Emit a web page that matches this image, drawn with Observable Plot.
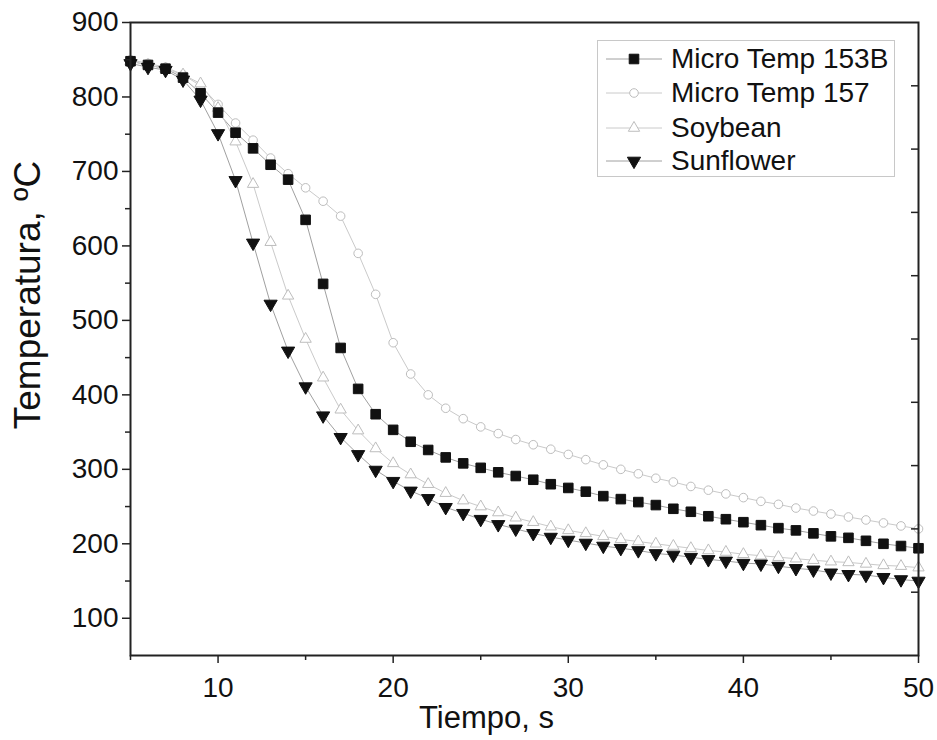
<!DOCTYPE html>
<html>
<head>
<meta charset="utf-8">
<script src="https://cdn.jsdelivr.net/npm/d3@7"></script>
<script src="https://cdn.jsdelivr.net/npm/@observablehq/plot@0.6"></script>
<style>
  html, body { margin: 0; padding: 0; background: #fff; }
  #wrap { position: relative; width: 937px; height: 740px; font-family: "Liberation Sans", Arial, sans-serif; }
  #legend { position: absolute; left: 597px; top: 40px; width: 298px; height: 137px; border: 1px solid #c8c8c8; box-sizing: border-box; background: #fff; }
  .row { position: absolute; left: 0; height: 34px; display: flex; align-items: center; white-space: nowrap; }
  .row span { font-size: 28px; color: #111; margin-left: 5px; }
</style>
</head>
<body>
<div id="wrap"><div id="chart"></div><div id="legend"></div></div>
<script>
const seriesNames = ["Micro Temp 153B", "Micro Temp 157", "Soybean", "Sunflower"];
const time = d3.range(5, 51);
const microTemp153B = [848, 843, 838, 826, 805, 779, 752, 731, 709, 689, 635, 549, 463, 408, 374, 353, 337, 326, 316, 308,
  302, 296, 291, 286, 280, 275, 270, 264, 260, 256, 252, 247, 243, 237, 233, 229, 225, 221, 218, 214,
  210, 208, 204, 200, 197, 194];
const microTemp157 = [850, 845, 840, 830, 815, 790, 765, 742, 718, 697, 678, 660, 640, 590, 535, 470, 428, 400, 382, 368,
  357, 348, 340, 333, 327, 320, 313, 306, 300, 294, 288, 283, 277, 272, 267, 262, 257, 253, 248, 244,
  240, 236, 232, 228, 224, 220];
const soybean = [848, 843, 838, 830, 818, 785, 740, 683, 605, 533, 475, 423, 380, 352, 328, 308, 293, 280, 268, 258,
  250, 242, 235, 229, 223, 218, 214, 210, 206, 203, 200, 197, 194, 191, 189, 186, 184, 182, 180, 178,
  176, 175, 173, 171, 170, 168];
const sunflower = [845, 840, 836, 823, 796, 751, 688, 604, 522, 459, 411, 372, 343, 320, 299, 284, 271, 261, 249, 241,
  233, 226, 220, 214, 209, 205, 201, 197, 194, 191, 187, 185, 182, 179, 177, 174, 173, 170, 167, 165,
  161, 159, 158, 155, 152, 150];
const xTicks = [10, 20, 30, 40, 50];
const xMinorTicks = [5, 15, 25, 35, 45];
const yTicks = [100, 200, 300, 400, 500, 600, 700, 800, 900];
const yMinorTicks = [150, 250, 350, 450, 550, 650, 750, 850];
const rightTicks = [135, 220, 305, 390, 475, 560, 645, 730, 815];

const valuesBySeries = [microTemp153B, microTemp157, soybean, sunflower];
const data = [];
seriesNames.forEach((name, si) => time.forEach((t, i) => data.push({series: name, t, v: valuesBySeries[si][i]})));

const triangleDown = {
  draw(ctx, size) {
    const a = Math.sqrt(4 * size / Math.sqrt(3));
    const h = a * Math.sqrt(3) / 2;
    ctx.moveTo(-a / 2, -h / 3);
    ctx.lineTo(a / 2, -h / 3);
    ctx.lineTo(0, 2 * h / 3);
    ctx.closePath();
  }
};

const styles = {
  "Micro Temp 153B": {symbol: d3.symbolSquare, fill: "#111", stroke: "#111", r: 5.4, line: "#a0a0a0"},
  "Micro Temp 157": {symbol: d3.symbolCircle, fill: "#fff", stroke: "#bdbdbd", r: 4.3, line: "#cacaca"},
  "Soybean": {symbol: d3.symbolTriangle, fill: "#fff", stroke: "#bdbdbd", r: 4.2, line: "#cacaca"},
  "Sunflower": {symbol: triangleDown, fill: "#111", stroke: "#111", r: 4.9, line: "#a0a0a0"}
};

const font = "Liberation Sans, Arial, sans-serif";
const marks = [];
for (const name of seriesNames) {
  const s = styles[name];
  marks.push(Plot.line(data.filter(d => d.series === name), {x: "t", y: "v", stroke: s.line, strokeWidth: 1}));
}
for (const name of ["Micro Temp 157", "Soybean", "Micro Temp 153B", "Sunflower"]) {
  const s = styles[name];
  marks.push(Plot.dot(data.filter(d => d.series === name), {x: "t", y: "v", symbol: () => s.symbol, r: s.r, fill: s.fill, stroke: s.stroke, strokeWidth: 1}));
}

const chart = Plot.plot({
  width: 937,
  height: 740,
  marginLeft: 130,
  marginRight: 19,
  marginTop: 22,
  marginBottom: 85,
  style: {fontFamily: font, background: "#fff", color: "#111"},
  x: {domain: [5, 50]},
  y: {domain: [50, 900]},
  symbol: {type: "identity"},
  marks: [
    ...marks,
    Plot.axisX({ticks: xTicks, tickSize: 8, tickPadding: 14, fontSize: 28, label: null, stroke: "#222", strokeWidth: 1.5}),
    Plot.axisX({ticks: xMinorTicks, tickSize: 5, tickFormat: () => "", label: null, stroke: "#222", strokeWidth: 1.5}),
    Plot.axisY({ticks: yTicks, tickSize: 8, tickPadding: 4, fontSize: 28, label: null, stroke: "#222", strokeWidth: 1.5}),
    Plot.axisY({ticks: yMinorTicks, tickSize: 5, tickFormat: () => "", label: null, stroke: "#222", strokeWidth: 1.5}),
    Plot.axisY({anchor: "right", ticks: rightTicks, tickSize: 8, dx: -8, tickFormat: () => "", label: null, stroke: "#222", strokeWidth: 1.5}),
    Plot.frame({stroke: "#222", strokeWidth: 2}),
    Plot.text(["Tiempo, s"], {frameAnchor: "bottom", dx: -38, dy: 72, fontSize: 31, fill: "#111", textAnchor: "middle"}),
    Plot.text(["Temperatura, ºC"], {frameAnchor: "left", dx: -102, dy: -44, rotate: -90, fontSize: 37, fill: "#111", textAnchor: "middle"})
  ]
});
document.getElementById("chart").appendChild(chart);

// legend
const legend = document.getElementById("legend");
const rowCenters = [18, 52, 87, 120];
seriesNames.forEach((name, i) => {
  const s = styles[name];
  const row = document.createElement("div");
  row.className = "row";
  row.style.top = (rowCenters[i] - 17) + "px";
  const svg = d3.create("svg").attr("width", 66).attr("height", 34).style("margin-left", "2px");
  svg.append("line").attr("x1", 6).attr("x2", 62).attr("y1", 17).attr("y2", 17).attr("stroke", s.line).attr("stroke-width", 1);
  svg.append("path").attr("transform", "translate(34,17)")
    .attr("d", d3.symbol(s.symbol, Math.PI * s.r * s.r)())
    .attr("fill", s.fill).attr("stroke", s.stroke);
  row.appendChild(svg.node());
  const span = document.createElement("span");
  span.textContent = name;
  row.appendChild(span);
  legend.appendChild(row);
});
</script>
</body>
</html>
